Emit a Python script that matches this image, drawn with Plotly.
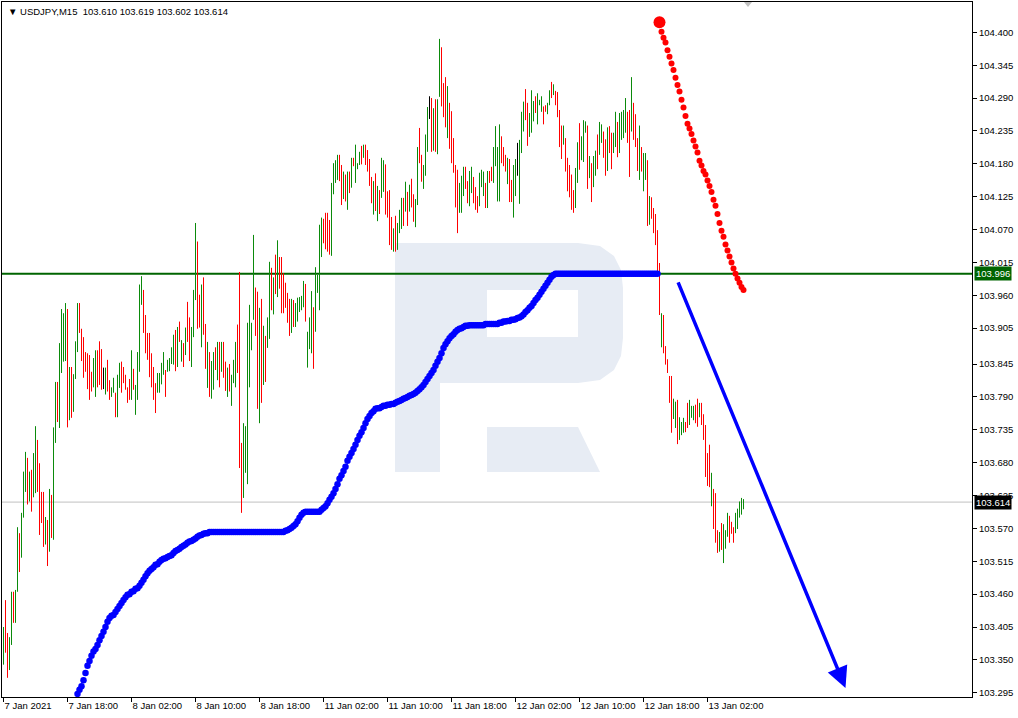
import plotly.graph_objects as go

# ---------------- data ----------------
title_text = "USDJPY,M15\u00a0\u00a0103.610 103.619 103.602 103.614"

bar_high = [
    103.405, 103.450, 103.395, 103.388, 103.464, 103.464, 103.467, 103.572, 103.562, 103.596,
    103.665, 103.698, 103.688, 103.665, 103.668, 103.696, 103.741, 103.718, 103.679, 103.631,
    103.631, 103.589, 103.584, 103.636, 103.626, 103.739, 103.815, 103.815, 103.880, 103.937,
    103.930, 103.947, 103.937, 103.840, 103.840, 103.828, 103.883, 103.947, 103.947, 103.904,
    103.890, 103.865, 103.863, 103.860, 103.832, 103.855, 103.868, 103.868, 103.883, 103.870,
    103.839, 103.839, 103.852, 103.818, 103.806, 103.822, 103.797, 103.827, 103.847, 103.849,
    103.840, 103.827, 103.806, 103.820, 103.868, 103.837, 103.810, 103.865, 103.978, 103.992,
    103.969, 103.927, 103.897, 103.897, 103.863, 103.840, 103.813, 103.830, 103.830, 103.847,
    103.865, 103.835, 103.852, 103.855, 103.873, 103.894, 103.902, 103.907, 103.916, 103.885,
    103.880, 103.906, 103.949, 103.923, 103.907, 103.969, 104.081, 104.050, 103.961, 103.978,
    103.990, 103.912, 103.882, 103.865, 103.850, 103.865, 103.873, 103.882, 103.882, 103.882,
    103.882, 103.849, 103.839, 103.845, 103.827, 103.852, 103.882, 103.911, 103.999, 103.713,
    103.746, 103.741, 103.914, 103.944, 103.914, 104.061, 103.973, 103.966, 103.939, 103.954,
    103.909, 103.892, 103.923, 104.016, 104.006, 103.990, 104.028, 104.052, 104.024, 104.024,
    103.997, 103.981, 103.964, 103.954, 103.954, 103.952, 103.947, 103.956, 103.957, 103.959,
    103.984, 103.979, 103.899, 103.923, 103.967, 103.940, 104.007, 103.994, 104.078, 104.090,
    104.088, 104.098, 104.098, 104.086, 104.148, 104.181, 104.186, 104.195, 104.195, 104.178,
    104.167, 104.162, 104.167, 104.167, 104.190, 104.190, 104.212, 104.181, 104.200, 104.210,
    104.212, 104.212, 104.203, 104.188, 104.158, 104.151, 104.164, 104.143, 104.136, 104.190,
    104.186, 104.179, 104.134, 104.136, 104.091, 104.072, 104.093, 104.081, 104.103, 104.123,
    104.123, 104.150, 104.133, 104.145, 104.155, 104.129, 104.121, 104.208, 104.240, 104.195,
    104.178, 104.229, 104.275, 104.293, 104.290, 104.273, 104.288, 104.288, 104.389, 104.375,
    104.315, 104.325, 104.310, 104.282, 104.268, 104.223, 104.178, 104.170, 104.148, 104.160,
    104.175, 104.175, 104.151, 104.168, 104.175, 104.158, 104.141, 104.126, 104.165, 104.170,
    104.167, 104.148, 104.168, 104.168, 104.175, 104.208, 104.243, 104.208, 104.246, 104.226,
    104.208, 104.195, 104.190, 104.188, 104.153, 104.178, 104.188, 104.215, 104.220, 104.267,
    104.284, 104.305, 104.282, 104.265, 104.303, 104.285, 104.293, 104.298, 104.287, 104.293,
    104.276, 104.278, 104.282, 104.303, 104.317, 104.313, 104.302, 104.300, 104.270, 104.244,
    104.244, 104.223, 104.190, 104.178, 104.162, 104.136, 104.173, 104.216, 104.248, 104.226,
    104.253, 104.251, 104.244, 104.193, 104.181, 104.193, 104.202, 104.229, 104.250, 104.246,
    104.234, 104.221, 104.241, 104.243, 104.232, 104.232, 104.267, 104.250, 104.265, 104.267,
    104.270, 104.290, 104.267, 104.270, 104.325, 104.282, 104.263, 104.223, 104.244, 104.208,
    104.198, 104.198, 104.186, 104.126, 104.124, 104.106, 104.096, 104.069, 104.014, 103.930,
    103.927, 103.875, 103.853, 103.825, 103.825, 103.787, 103.782, 103.785, 103.756, 103.748,
    103.755, 103.748, 103.780, 103.785, 103.775, 103.775, 103.777, 103.787, 103.780, 103.780,
    103.761, 103.743, 103.696, 103.710, 103.663, 103.636, 103.629, 103.567, 103.564, 103.579,
    103.577, 103.567, 103.596, 103.591, 103.581, 103.572, 103.596, 103.603, 103.615, 103.621,
    103.619,
]

bar_low = [
    103.342, 103.362, 103.320, 103.333, 103.375, 103.412, 103.412, 103.464, 103.497, 103.521,
    103.588, 103.631, 103.610, 103.615, 103.598, 103.622, 103.629, 103.631, 103.559, 103.579,
    103.539, 103.543, 103.507, 103.531, 103.554, 103.551, 103.713, 103.748, 103.738, 103.830,
    103.849, 103.850, 103.739, 103.751, 103.755, 103.765, 103.820, 103.865, 103.897, 103.850,
    103.822, 103.832, 103.803, 103.785, 103.799, 103.806, 103.790, 103.806, 103.810, 103.802,
    103.803, 103.794, 103.799, 103.785, 103.790, 103.797, 103.756, 103.756, 103.805, 103.797,
    103.813, 103.802, 103.780, 103.785, 103.785, 103.802, 103.760, 103.785, 103.832, 103.944,
    103.897, 103.863, 103.852, 103.823, 103.806, 103.785, 103.763, 103.797, 103.797, 103.811,
    103.827, 103.790, 103.832, 103.833, 103.845, 103.844, 103.833, 103.840, 103.882, 103.849,
    103.840, 103.860, 103.882, 103.850, 103.840, 103.890, 103.952, 103.904, 103.906, 103.873,
    103.894, 103.837, 103.805, 103.790, 103.787, 103.802, 103.835, 103.818, 103.806, 103.832,
    103.822, 103.800, 103.790, 103.799, 103.775, 103.813, 103.806, 103.830, 103.671, 103.596,
    103.621, 103.663, 103.644, 103.806, 103.868, 103.919, 103.892, 103.770, 103.746, 103.780,
    103.810, 103.815, 103.872, 103.887, 103.935, 103.928, 103.962, 103.957, 103.971, 103.930,
    103.930, 103.939, 103.914, 103.892, 103.897, 103.907, 103.907, 103.916, 103.932, 103.935,
    103.940, 103.916, 103.839, 103.870, 103.863, 103.837, 103.899, 103.964, 103.935, 104.024,
    104.047, 104.037, 104.033, 104.028, 104.026, 104.129, 104.148, 104.153, 104.151, 104.111,
    104.121, 104.117, 104.103, 104.131, 104.140, 104.176, 104.148, 104.171, 104.178, 104.179,
    104.190, 104.178, 104.167, 104.143, 104.114, 104.095, 104.101, 104.084, 104.096, 104.123,
    104.133, 104.095, 104.090, 104.044, 104.036, 104.033, 104.033, 104.036, 104.064, 104.071,
    104.076, 104.100, 104.076, 104.100, 104.107, 104.083, 104.074, 104.111, 104.181, 104.150,
    104.138, 104.160, 104.200, 104.255, 104.200, 104.202, 104.200, 104.196, 104.292, 104.276,
    104.258, 104.241, 104.223, 104.205, 104.181, 104.165, 104.107, 104.064, 104.098, 104.098,
    104.126, 104.138, 104.114, 104.109, 104.131, 104.114, 104.103, 104.098, 104.109, 104.141,
    104.126, 104.106, 104.106, 104.148, 104.151, 104.148, 104.176, 104.117, 104.117, 104.181,
    104.176, 104.167, 104.146, 104.116, 104.116, 104.090, 104.126, 104.160, 104.113, 104.198,
    104.234, 104.253, 104.210, 104.225, 104.232, 104.251, 104.265, 104.246, 104.278, 104.267,
    104.246, 104.267, 104.263, 104.278, 104.290, 104.295, 104.278, 104.258, 104.208, 104.188,
    104.212, 104.167, 104.134, 104.124, 104.103, 104.098, 104.106, 104.148, 104.170, 104.186,
    104.183, 104.232, 104.138, 104.156, 104.116, 104.141, 104.160, 104.171, 104.195, 104.215,
    104.190, 104.160, 104.168, 104.198, 104.171, 104.198, 104.208, 104.191, 104.198, 104.220,
    104.223, 104.232, 104.215, 104.158, 104.234, 104.220, 104.208, 104.168, 104.153, 104.167,
    104.134, 104.153, 104.076, 104.078, 104.088, 104.064, 104.044, 103.992, 103.927, 103.873,
    103.863, 103.844, 103.830, 103.780, 103.730, 103.753, 103.738, 103.711, 103.718, 103.726,
    103.730, 103.731, 103.738, 103.743, 103.755, 103.751, 103.746, 103.740, 103.756, 103.743,
    103.718, 103.656, 103.641, 103.639, 103.607, 103.569, 103.546, 103.529, 103.531, 103.534,
    103.512, 103.536, 103.556, 103.546, 103.561, 103.546, 103.562, 103.569, 103.588, 103.593,
    103.602,
]

# bar direction: u = up (green), d = down (red), n = unchanged (black)
bar_dir = (
    "udduuduudu" "uududuuddd" "dududuuduu" "uududuuudd" "ddddduuddd"
    "nudduuduud" "dddduduuuu" "ddddddduuu" "uduuuududu" "dudduuuddu"
    "dduduududu" "dduduuuddd" "uuuuuuddud" "uduudududd" "dddduduuuu"
    "uduuuduuuu" "dddduuuudd" "udududuuud" "uddddududu" "udddduduuu"
    "dududduudd" "uuunduduud" "dduddddduu" "udduuddduu" "ududduuuud"
    "ddudduunuu" "udduuuduuu" "dduududddd" "uddddduudu" "uududuuduu"
    "ddudduuduu" "uuddudddud" "uududddddu" "ddddduuduu" "udduuuddud"
    "ddddudddud" "uuuddduuuu" "u"
)

# blue trailing dots (below price), one per bar starting at bar 37
sar_up_start = 37
sar_up = [
    103.293, 103.300, 103.306, 103.316, 103.328, 103.340, 103.348, 103.357, 103.364, 103.368,
    103.375, 103.383, 103.390, 103.397, 103.405, 103.414, 103.420, 103.424, 103.425, 103.430,
    103.435, 103.440, 103.445, 103.450, 103.455, 103.459, 103.460, 103.464, 103.465, 103.469,
    103.470, 103.474, 103.479, 103.484, 103.490, 103.495, 103.499, 103.502, 103.505, 103.509,
    103.510, 103.514, 103.517, 103.519, 103.520, 103.522, 103.524, 103.525, 103.529, 103.532,
    103.534, 103.536, 103.539, 103.541, 103.543, 103.546, 103.548, 103.549, 103.551, 103.553,
    103.556, 103.558, 103.559, 103.561, 103.562, 103.562,
    103.564, 103.564, 103.564, 103.564, 103.564, 103.564, 103.564, 103.564, 103.564, 103.564,
    103.564, 103.564, 103.564, 103.564, 103.564, 103.564, 103.564, 103.564, 103.564, 103.564,
    103.564, 103.564, 103.564, 103.564, 103.564, 103.564, 103.564, 103.564, 103.564, 103.564,
    103.564, 103.564, 103.564, 103.564, 103.564, 103.564, 103.564, 103.564,
    103.566, 103.567, 103.569, 103.571, 103.574, 103.577, 103.582, 103.588, 103.593, 103.596,
    103.598, 103.598, 103.598, 103.598, 103.598, 103.598, 103.598, 103.598,
    103.601, 103.604, 103.607, 103.612, 103.618, 103.623, 103.629, 103.636, 103.644, 103.653,
    103.659, 103.666, 103.673, 103.683, 103.690, 103.696, 103.703, 103.710, 103.718, 103.725,
    103.731, 103.738, 103.746, 103.753, 103.758, 103.763, 103.766, 103.770, 103.771, 103.771,
    103.773, 103.775, 103.775, 103.777, 103.777, 103.778, 103.778, 103.780, 103.782, 103.783,
    103.785, 103.787, 103.788, 103.790, 103.792, 103.793, 103.795, 103.797, 103.800, 103.803,
    103.806, 103.810, 103.815, 103.820, 103.825, 103.830, 103.835, 103.842, 103.849, 103.855,
    103.863, 103.872, 103.878, 103.883, 103.888, 103.892, 103.895, 103.899, 103.902, 103.904,
    103.905, 103.907, 103.909, 103.909, 103.910,
    103.910, 103.910, 103.910, 103.910, 103.910, 103.910, 103.910,
    103.912, 103.912, 103.912, 103.912, 103.912, 103.912, 103.912,
    103.914, 103.914, 103.916, 103.916, 103.917, 103.917, 103.919, 103.919, 103.920, 103.922,
    103.923, 103.925, 103.928, 103.932, 103.935, 103.939, 103.942, 103.947, 103.952, 103.956,
    103.961, 103.966, 103.971, 103.976, 103.981, 103.986, 103.991, 103.994,
    103.996, 103.996, 103.996, 103.996, 103.996, 103.996, 103.996, 103.996, 103.996, 103.996,
    103.996, 103.996, 103.996, 103.996, 103.996, 103.996, 103.996, 103.996, 103.996, 103.996,
    103.996, 103.996, 103.996, 103.996, 103.996, 103.996, 103.996, 103.996, 103.996, 103.996,
    103.996, 103.996, 103.996, 103.996, 103.996, 103.996, 103.996, 103.996, 103.996, 103.996,
    103.996, 103.996, 103.996, 103.996, 103.996, 103.996, 103.996, 103.996, 103.996, 103.996,
    103.996, 103.996,
]

# red dots (above price) after the flip
sar_flip_bar = 328
sar_flip_value = 104.417
sar_down_start = 329
sar_down = [
    104.401, 104.391, 104.383, 104.370, 104.359, 104.348, 104.337, 104.324, 104.312, 104.301,
    104.287, 104.274, 104.260, 104.247, 104.239, 104.230, 104.219, 104.209, 104.199, 104.185,
    104.177, 104.168, 104.162, 104.152, 104.143, 104.133, 104.120, 104.110, 104.096, 104.081,
    104.068, 104.058, 104.045, 104.035, 104.025, 104.015, 104.005, 103.996, 103.988, 103.981,
    103.974, 103.969,
]

level_price = 103.996
last_price = 103.614

arrow_from = (337, 103.984)
arrow_to = (421, 103.303)

x_tick_bars = [0, 32, 64, 96, 128, 160, 192, 224, 256, 288, 320, 352]
x_tick_text = ["7 Jan 2021", "7 Jan 18:00", "8 Jan 02:00", "8 Jan 10:00", "8 Jan 18:00",
               "11 Jan 02:00", "11 Jan 10:00", "11 Jan 18:00", "12 Jan 02:00",
               "12 Jan 10:00", "12 Jan 18:00", "13 Jan 02:00"]
y_tick_text = ["104.400", "104.345", "104.290", "104.235", "104.180", "104.125", "104.070",
               "104.015", "103.960", "103.905", "103.845", "103.790", "103.735", "103.680",
               "103.625", "103.570", "103.515", "103.460", "103.405", "103.350", "103.295"]

assert len(bar_high) == len(bar_low) == len(bar_dir)

# ---------------- figure ----------------
W, H = 1018, 718
ML, MR, MT, MB = 2, 46, 2, 21
PW, PH = W - ML - MR, H - MT - MB
FONT = "Liberation Sans, Arial, sans-serif"


def P(px, py):
    """pixel (page) -> paper coordinates, used only for decorations"""
    return (px - ML) / PW, (H - MB - py) / PH


def path(points):
    s = ""
    for i, (px, py) in enumerate(points):
        x, y = P(px, py)
        s += ("M" if i == 0 else "L") + f"{x:.5f},{y:.5f} "
    return s + "Z"


fig = go.Figure()

colors = {"u": "#0b8a0b", "d": "#ff0000", "n": "#000000"}
for key, col in colors.items():
    xs, ys = [], []
    for i, (h, l, d) in enumerate(zip(bar_high, bar_low, bar_dir)):
        if d == key:
            xs += [i, i, None]
            ys += [l, h, None]
    fig.add_trace(go.Scatter(x=xs, y=ys, mode="lines", line=dict(color=col, width=1),
                             hoverinfo="skip", showlegend=False))

fig.add_trace(go.Scatter(
    x=list(range(sar_up_start, sar_up_start + len(sar_up))), y=sar_up, mode="markers",
    marker=dict(color="#0000ff", size=6.5, line=dict(width=0)), hoverinfo="skip", showlegend=False))

fig.add_trace(go.Scatter(
    x=list(range(sar_down_start, sar_down_start + len(sar_down))), y=sar_down, mode="markers",
    marker=dict(color="#ff0000", size=6, line=dict(width=0)), hoverinfo="skip", showlegend=False))

fig.add_trace(go.Scatter(
    x=[sar_flip_bar], y=[sar_flip_value], mode="markers",
    marker=dict(color="#ff0000", size=12, line=dict(width=0)), hoverinfo="skip", showlegend=False))

shapes = []
logo_col = "#e7ecf4"
# watermark logo (stem + bowl with counter, and leg)
outer = [(395, 472), (395, 243), (578, 243), (600, 246), (614, 256), (621, 270), (623, 288),
         (623, 338), (621, 356), (614, 370), (600, 380), (578, 383), (440, 383), (440, 472)]
counter = [(487, 290), (487, 337), (578, 337), (578, 290)]
shapes.append(dict(type="path", xref="paper", yref="paper",
                   path=path(outer) + " " + path(counter),
                   fillcolor=logo_col, line=dict(width=0), layer="below"))
shapes.append(dict(type="path", xref="paper", yref="paper",
                   path=path([(487, 427), (578, 427), (600, 472), (487, 472)]),
                   fillcolor=logo_col, line=dict(width=0), layer="below"))
# horizontal lines
shapes.append(dict(type="line", xref="paper", x0=0, x1=1, yref="y", y0=last_price, y1=last_price,
                   line=dict(color="#c0c0c0", width=1), layer="below"))
shapes.append(dict(type="line", xref="paper", x0=0, x1=1, yref="y", y0=level_price, y1=level_price,
                   line=dict(color="#006400", width=2), layer="below"))
# small shift marker at the top
shapes.append(dict(type="path", xref="paper", yref="paper",
                   path=path([(744, 2), (752, 2), (748, 7)]),
                   fillcolor="#c0c0c0", line=dict(width=0), layer="above"))

annotations = [
    dict(x=arrow_to[0], y=arrow_to[1], ax=arrow_from[0], ay=arrow_from[1],
         xref="x", yref="y", axref="x", ayref="y", text="", showarrow=True,
         arrowcolor="#0000ff", arrowwidth=3.5, arrowhead=2, arrowsize=1.2),
    dict(x=0, y=1, xref="paper", yref="paper", xanchor="left", yanchor="top",
         xshift=4, yshift=-2, showarrow=False,
         text="\u25bc " + title_text, font=dict(family=FONT, size=9.5, color="#000000")),
    dict(x=1, y=level_price, xref="paper", yref="y", xanchor="left", yanchor="middle",
         xshift=2, showarrow=False, text=f"{level_price:.3f}", bgcolor="#006400",
         borderpad=1, font=dict(family=FONT, size=9.5, color="#ffffff")),
    dict(x=1, y=last_price, xref="paper", yref="y", xanchor="left", yanchor="middle",
         xshift=2, showarrow=False, text=f"{last_price:.3f}", bgcolor="#000000",
         borderpad=1, font=dict(family=FONT, size=9.5, color="#ffffff")),
]

fig.update_layout(
    width=W, height=H, margin=dict(l=ML, r=MR, t=MT, b=MB, pad=0),
    paper_bgcolor="#ffffff", plot_bgcolor="#ffffff",
    shapes=shapes, annotations=annotations, showlegend=False,
    xaxis=dict(range=[-0.75, 484.25], tickmode="array", tickvals=x_tick_bars, ticktext=x_tick_text,
               ticks="outside", ticklen=4, tickcolor="#000000", ticklabelposition="outside right",
               showline=True, linecolor="#000000", linewidth=1, mirror=True,
               showgrid=False, zeroline=False, tickfont=dict(family=FONT, size=9.5, color="#000000")),
    yaxis=dict(range=[103.2879, 104.4507], side="right", tickmode="array",
               tickvals=[float(t) for t in y_tick_text], ticktext=y_tick_text,
               ticks="outside", ticklen=4, tickcolor="#000000",
               showline=True, linecolor="#000000", linewidth=1, mirror=True,
               showgrid=False, zeroline=False, tickfont=dict(family=FONT, size=9.5, color="#000000")),
)

fig.write_html("out.html", config={"displayModeBar": False},
               post_script="document.body.style.margin='0px';document.body.style.overflow='hidden';")
